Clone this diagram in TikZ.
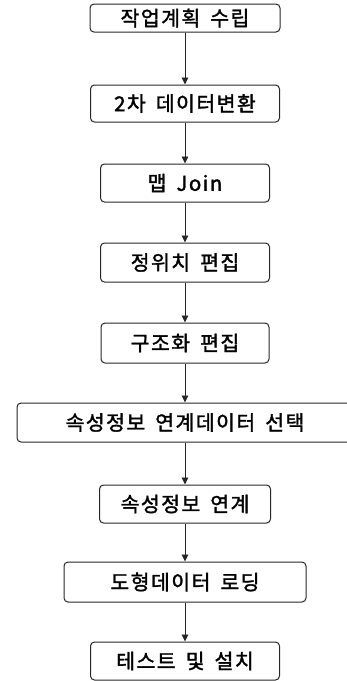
\documentclass[tikz,border=0pt]{standalone}
\usepackage{fontspec}
\newfontfamily\kr[LetterSpace=7,FakeBold=1.6]{Noto Sans CJK KR}
\newcommand\boxfont{\kr\fontsize{20.5}{22}\selectfont\spaceskip=10pt plus 0pt minus 0pt\relax}
\usetikzlibrary{arrows.meta}
\tikzset{
  stepbox/.style={draw=black!85, line width=1pt, rounded corners=4pt, inner sep=0pt,
    font=\boxfont, text=black},
  flow/.style={draw=black!85, line width=0.9pt, -{Triangle[width=6.5pt,length=7pt]}}
}
\begin{document}
\begin{tikzpicture}[x=1pt,y=-1pt]
\clip (0,0) rectangle (347,681);
\useasboundingbox (0,0) rectangle (347,681);
\node[stepbox, minimum width=190pt, minimum height=28pt] (s1) at (185,18) {작업계획 수립};
\node[stepbox, minimum width=189pt, minimum height=37pt] (s2) at (185,103.5) {2차 데이터변환};
\node[stepbox, minimum width=169pt, minimum height=38pt] (s3) at (185,183) {맵 Join};
\node[stepbox, minimum width=169pt, minimum height=39pt] (s4) at (185,262.5) {정위치 편집};
\node[stepbox, minimum width=168pt, minimum height=40pt] (s5) at (185,343) {구조화 편집};
\node[stepbox, minimum width=336pt, minimum height=39pt] (s6) at (185,422.5) {속성정보 연계데이터 선택};
\node[stepbox, minimum width=171pt, minimum height=38pt] (s7) at (185,504) {속성정보 연계};
\node[stepbox, minimum width=242pt, minimum height=40pt] (s8) at (185,582) {도형데이터 로딩};
\node[stepbox, minimum width=189pt, minimum height=38pt] (s9) at (185,661) {테스트 및 설치};
\draw[flow] (s1) -- (s2);
\draw[flow] (s2) -- (s3);
\draw[flow] (s3) -- (s4);
\draw[flow] (s4) -- (s5);
\draw[flow] (s5) -- (s6);
\draw[flow] (s6) -- (s7);
\draw[flow] (s7) -- (s8);
\draw[flow] (s8) -- (s9);
\end{tikzpicture}
\end{document}
